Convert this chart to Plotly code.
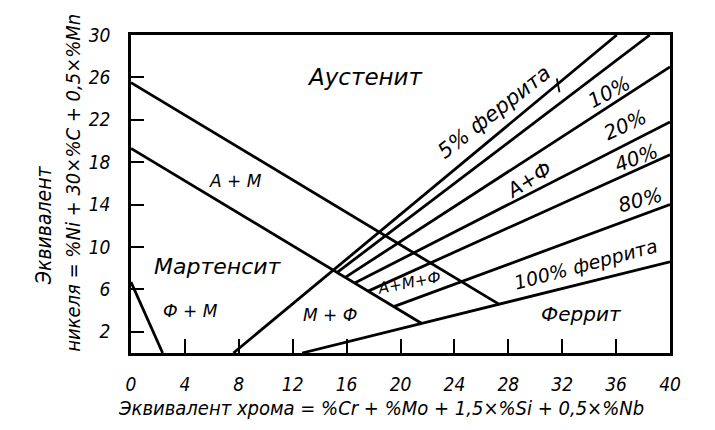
import plotly.graph_objects as go

# ---- axis ticks ----
cr_ticks = [0, 4, 8, 12, 16, 20, 24, 28, 32, 36, 40]
ni_ticks = [2, 6, 10, 14, 18, 22, 26, 30]

# ---- phase boundary lines (Cr-equivalent, Ni-equivalent) ----
fm_x = [0, 2.35]
fm_y = [6.7, 0]
a_am_x = [0, 27.33]          # austenite / A+M boundary
a_am_y = [25.5, 4.59]
m_am_x = [0, 21.58]          # martensite / A+M boundary
m_am_y = [19.3, 2.79]
f0_x = [7.6, 36.05]          # M / M+F boundary continuing as 0 % ferrite line
f0_y = [0, 30]
f5_x = [15.3, 38.5]
f5_y = [7.6, 30]
f10_x = [15.9, 40]
f10_y = [7.14, 27.0]
f20_x = [16.6, 40]
f20_y = [6.6, 21.8]
f40_x = [17.6, 40]
f40_y = [5.84, 18.7]
f80_x = [19.5, 40]
f80_y = [4.38, 14.0]
f100_x = [12.7, 40]
f100_y = [0, 8.6]
mark_x = [31.6, 31.8]        # small stroke on the 5 % line
mark_y = [25.9, 24.6]

lines = [(fm_x, fm_y), (a_am_x, a_am_y), (m_am_x, m_am_y), (f0_x, f0_y),
         (f5_x, f5_y), (f10_x, f10_y), (f20_x, f20_y), (f40_x, f40_y),
         (f80_x, f80_y), (f100_x, f100_y)]

# ---- region labels ----
lbl_text = ["Аустенит", "А + М", "Мартенсит", "Ф + М", "М + Ф", "А+М+Ф", "А+Ф",
            "5% феррита", "10%", "20%", "40%", "80%", "100% феррита", "Феррит"]
lbl_x = [17.36, 7.72, 6.45, 4.45, 14.76, 20.6, 29.5, 26.95, 35.46, 36.65, 37.46, 37.76, 33.75, 33.46]
lbl_y = [26.04, 16.2, 8.2, 3.96, 3.58, 6.6, 16.3, 22.75, 24.6, 21.5, 18.4, 14.43, 8.4, 3.68]
lbl_angle = [0, 0, 0, 0, 0, -11, -32, -38, -28, -25, -21, -15, -15, 0]
lbl_size = [23, 17, 22, 17, 17, 15.5, 20, 21, 20, 20, 20, 20, 19, 20]

FONT = "DejaVu Sans, sans-serif"
FONT_C = "DejaVu Sans Condensed, DejaVu Sans, sans-serif"

fig = go.Figure()
for xs, ys in lines:
    fig.add_trace(go.Scatter(x=xs, y=ys, mode="lines",
                             line=dict(color="black", width=2.8),
                             hoverinfo="skip", showlegend=False))
fig.add_trace(go.Scatter(x=mark_x, y=mark_y, mode="lines",
                         line=dict(color="black", width=1.8),
                         hoverinfo="skip", showlegend=False))

for t, x, y, a, s in zip(lbl_text, lbl_x, lbl_y, lbl_angle, lbl_size):
    fig.add_annotation(x=x, y=y, xref="x", yref="y", text=t, showarrow=False,
                       textangle=a, xanchor="center", yanchor="middle",
                       font=dict(family=FONT, size=s, color="black", style="italic"))

# axis titles
fig.add_annotation(x=0.464, y=-0.173, xref="paper", yref="paper",
                   xanchor="center", yanchor="middle",
                   text="Эквивалент хрома = %Cr + %Mo + 1,5×%Si + 0,5×%Nb",
                   showarrow=False, font=dict(family=FONT_C, size=20, color="black", style="italic"))
fig.add_annotation(x=-0.161, y=0.4025, xref="paper", yref="paper", text="Эквивалент",
                   textangle=-90, showarrow=False, xanchor="center", yanchor="middle",
                   font=dict(family=FONT_C, size=21, color="black", style="italic"))
fig.add_annotation(x=-0.1076, y=0.535, xref="paper", yref="paper",
                   text="никеля = %Ni + 30×%C + 0,5×%Mn",
                   textangle=-90, showarrow=False, xanchor="center", yanchor="middle",
                   font=dict(family=FONT_C, size=20, color="black", style="italic"))

axis_common = dict(showgrid=False, zeroline=False, showline=True, mirror=True,
                   linecolor="black", linewidth=2.5, ticks="inside", tickcolor="black",
                   tickwidth=1.5, tickfont=dict(family=FONT_C, size=19, color="black", style="italic"))
fig.update_xaxes(range=[0, 40], tickvals=cr_ticks, ticklen=14, ticklabelstandoff=12, **axis_common)
fig.update_yaxes(range=[0, 30], tickvals=ni_ticks, ticklen=13, ticklabelstandoff=14, **axis_common)

fig.update_layout(width=715, height=430, margin=dict(l=131, r=45, t=35, b=77),
                  plot_bgcolor="white", paper_bgcolor="white", showlegend=False)

fig.write_html("out.html", config={"displayModeBar": False},
               post_script="document.body.style.margin='0px';")
